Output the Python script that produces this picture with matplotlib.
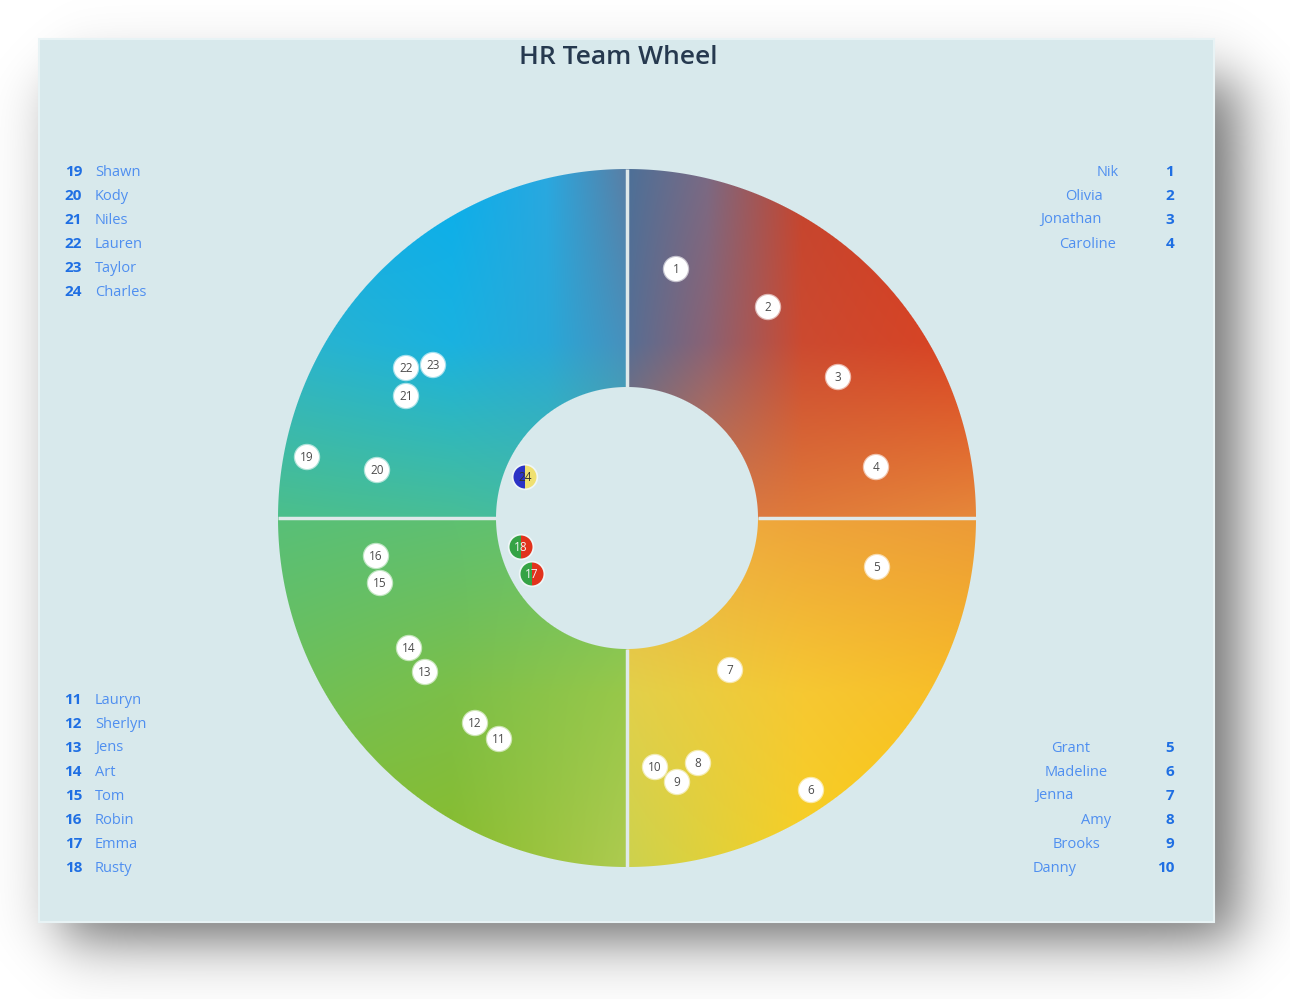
import numpy as np
import matplotlib
matplotlib.use('Agg')
import matplotlib.pyplot as plt
from matplotlib.colors import to_rgb
from matplotlib.patches import Circle, Wedge, Rectangle

plt.rcParams['font.family'] = ['Open Sans', 'DejaVu Sans']

# ---- data ----
title = 'HR Team Wheel'
ids = list(range(1, 25))
names = ['Nik', 'Olivia', 'Jonathan', 'Caroline', 'Grant', 'Madeline', 'Jenna', 'Amy',
         'Brooks', 'Danny', 'Lauryn', 'Sherlyn', 'Jens', 'Art', 'Tom', 'Robin', 'Emma',
         'Rusty', 'Shawn', 'Kody', 'Niles', 'Lauren', 'Taylor', 'Charles']
# position on the wheel (wheel units, outer radius = 349)
pos_x = [49, 141, 211, 249, 250, 184, 103, 71, 50, 28, -128, -152,
         -202, -218, -247, -251, -95, -106, -320, -250, -221, -221, -194, -102]
pos_y = [249, 211, 141, 51, -49, -272, -152, -245, -264, -249, -221, -205,
         -154, -130, -65, -38, -56, -29, 61, 48, 122, 150, 153, 41]
# members with a two-colour marker
split_colors = {24: ('#2b33c6', '#efe070'), 18: ('#35a345', '#e2321c'), 17: ('#35a345', '#e2321c')}

r_outer = 349
r_inner = 131

# legend groups
grp_top_left = [19, 20, 21, 22, 23, 24]
grp_bot_left = [11, 12, 13, 14, 15, 16, 17, 18]
grp_top_right = [1, 2, 3, 4]
grp_bot_right = [5, 6, 7, 8, 9, 10]
right_name_end = {1: 1119, 2: 1103, 3: 1102, 4: 1116, 5: 1090, 6: 1108,
                  7: 1074, 8: 1111, 9: 1100, 10: 1077}

# gradient control colours per quadrant: (x knots, y knots, rows of colours top->bottom)
quad_grad = {
    'tl': ([-349, -175, -80, 0], [349, 175, 0],
           [['#12a8e6', '#0aaeec', '#2aa8e0', '#5a7ea4'],
            ['#2cb4cc', '#1ab2e0', '#28a8d8', '#4890bc'],
            ['#4cbf8a', '#48be96', '#44bca2', '#44bca8']]),
    'tr': ([0, 80, 175, 349], [349, 175, 0],
           [['#4c7098', '#7a6a84', '#c4442e', '#d8381c'],
            ['#566e94', '#8a6274', '#cc4a30', '#da4222'],
            ['#a87060', '#d87844', '#e07a3a', '#e6883a']]),
    'br': ([0, 175, 349], [0, -175, -349],
           [['#f0b244', '#eea43a', '#ec9a38'],
            ['#e2d04a', '#f6c832', '#f8bc26'],
            ['#ccd24e', '#f6d024', '#ffc800']]),
    'bl': ([-349, -175, 0], [0, -175, -349],
           [['#58c078', '#5ec072', '#66c26a'],
            ['#6ec058', '#7cbf48', '#98c84a'],
            ['#88bc30', '#8abc2c', '#aecb50']]),
}

W, H = 1290, 999
fig = plt.figure(figsize=(W / 100, H / 100), dpi=100, facecolor='white')

# ---- background, shadow and panel ----
bg = fig.add_axes([0, 0, 1, 1])
bg.set_xlim(0, W)
bg.set_ylim(H, 0)
bg.axis('off')
xx, yy = np.meshgrid(np.arange(W) + 0.5, np.arange(H) + 0.5)
def soft(a, w):
    return 0.5 * (1 + np.tanh(a / w))
sh = soft(xx - 62, 35) * soft(1238 - xx, 35) * soft(yy - 80, 35) * soft(940 - yy, 35)
shadow = np.zeros((H, W, 4))
shadow[..., 3] = 0.58 * sh
bg.imshow(shadow, extent=(0, W, H, 0), interpolation='bilinear', zorder=0)
bg.add_patch(Rectangle((39, 39), 1175, 883, facecolor='#d8e9ec', edgecolor='#e8f3f5',
                       linewidth=1.5, zorder=1))

bg.text(618, 58, title, ha='center', va='center', fontsize=19, fontweight='semibold',
        color='#26394f', zorder=3)

num_col = '#1f6fe3'
name_col = '#4f8ff0'
row = 24
def legend_row(xn, xname, y, k, name_ha):
    bg.text(xn, y, str(k), ha='right', va='center', fontsize=11, fontweight='bold', color=num_col)
    bg.text(xname, y, names[k - 1], ha=name_ha, va='center', fontsize=10.5, color=name_col)
for i, k in enumerate(grp_top_left):
    legend_row(82, 95, 172 + i * row, k, 'left')
for i, k in enumerate(grp_bot_left):
    legend_row(82, 95, 700 + i * row, k, 'left')
for i, k in enumerate(grp_top_right):
    legend_row(1174, right_name_end[k], 172 + i * row, k, 'right')
for i, k in enumerate(grp_bot_right):
    legend_row(1174, right_name_end[k], 748 + i * row, k, 'right')

# ---- wheel ----
cx, cy, half = 627, 518, 380
ax = fig.add_axes([(cx - half) / W, (H - cy - half) / H, 2 * half / W, 2 * half / H])
ax.set_xlim(-half, half)
ax.set_ylim(-half, half)
ax.set_aspect('equal')
ax.axis('off')
ax.patch.set_alpha(0)

g = np.arange(-half, half) + 0.5
gx, gy = np.meshgrid(g, -g)
rr = np.hypot(gx, gy)

def grid_color(px, py, xs, ys, rows):
    cols = np.array([[to_rgb(c) for c in r] for r in rows])
    ys = np.asarray(ys, float)
    if ys[0] > ys[-1]:
        ys = ys[::-1]
        cols = cols[::-1]
    fx = np.interp(px, xs, np.arange(len(xs)))
    fy = np.interp(py, ys, np.arange(len(ys)))
    ix = np.clip(np.floor(fx).astype(int), 0, len(xs) - 2)
    iy = np.clip(np.floor(fy).astype(int), 0, len(ys) - 2)
    tx = (fx - ix)[..., None]
    ty = (fy - iy)[..., None]
    c00 = cols[iy, ix]
    c01 = cols[iy, ix + 1]
    c10 = cols[iy + 1, ix]
    c11 = cols[iy + 1, ix + 1]
    return (c00 * (1 - tx) + c01 * tx) * (1 - ty) + (c10 * (1 - tx) + c11 * tx) * ty

img = np.zeros(gx.shape + (4,))
masks = {'tl': (gx < 0) & (gy >= 0), 'tr': (gx >= 0) & (gy >= 0),
         'br': (gx >= 0) & (gy < 0), 'bl': (gx < 0) & (gy < 0)}
for q, (xs, ys, rows) in quad_grad.items():
    m = masks[q]
    img[m, :3] = grid_color(gx[m], gy[m], xs, ys, rows)
img[..., 3] = np.clip(r_outer - rr + 0.5, 0, 1) * np.clip(rr - r_inner + 0.5, 0, 1)
ax.imshow(img, extent=(-half, half, -half, half), origin='upper', interpolation='bilinear', zorder=1)

for a in [0, 90, 180, 270]:
    s, c = np.sin(np.radians(a)), np.cos(np.radians(a))
    ax.plot([r_inner * s, r_outer * s], [r_inner * c, r_outer * c], color='#dfe9ea',
            linewidth=2.5, solid_capstyle='butt', zorder=2)

# ---- members ----
for k, x, y in zip(ids, pos_x, pos_y):
    ax.add_patch(Circle((x, y), 13.2, facecolor='white', edgecolor='none', alpha=0.6, zorder=3))
    if k in split_colors:
        cl, cr = split_colors[k]
        ax.add_patch(Wedge((x, y), 11.5, 90, 270, facecolor=cl, edgecolor='none', zorder=4))
        ax.add_patch(Wedge((x, y), 11.5, -90, 90, facecolor=cr, edgecolor='none', zorder=4))
        tc = '#333333' if k == 24 else '#f4f4f4'
    else:
        ax.add_patch(Circle((x, y), 12, facecolor='white', edgecolor='none', zorder=4))
        tc = '#4d4d4d'
    ax.text(x, y - 0.5, str(k), ha='center', va='center', fontsize=8.5, color=tc, zorder=5)

fig.savefig('out.png', dpi=100)
